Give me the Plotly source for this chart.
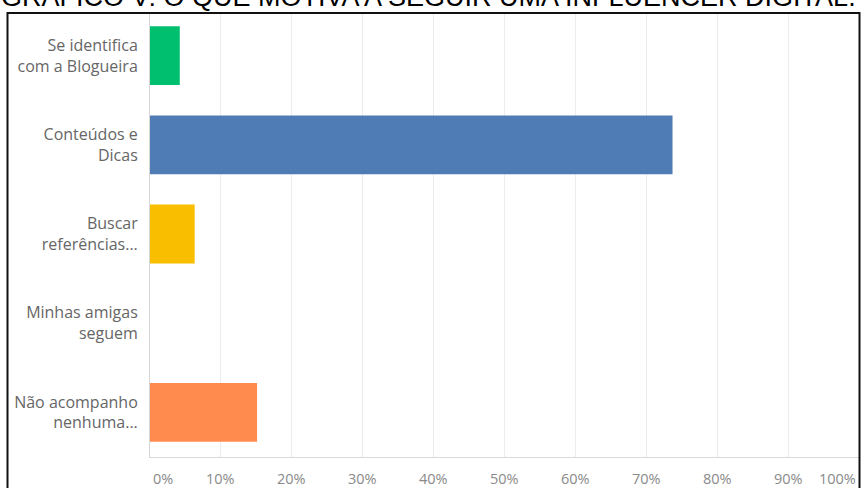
import plotly.graph_objects as go

categories = ["Se identifica<br>com a Blogueira", "Conteúdos e<br>Dicas", "Buscar<br>referências...",
              "Minhas amigas<br>seguem", "Não acompanho<br>nenhuma..."]
values = [4.2, 73.7, 6.3, 0.0, 15.1]
colors = ["#00bf6f", "#507cb6", "#f9be00", "#6bc8cd", "#ff8b4f"]
tick_vals = [0, 10, 20, 30, 40, 50, 60, 70, 80, 90, 100]
tick_text = ["0%", "10%", "20%", "30%", "40%", "50%", "60%", "70%", "80%", "90%", "100%"]
title_text = "GRÁFICO V: O QUE MOTIVA A SEGUIR UMA INFLUENCER DIGITAL."

W, H = 861, 488
L, R, T, B = 150, 2, 14, 31
pw, ph = W - L - R, H - T - B

def px_x(p):
    return (p - L) / pw

def px_y(p):
    return (H - B - p) / ph

fig = go.Figure()
fig.add_trace(go.Bar(
    x=values, y=list(range(len(categories))), orientation="h",
    marker=dict(color=colors, line=dict(width=0)), width=0.66,
    hoverinfo="skip",
))

annotations = []
for v, t in zip(tick_vals, tick_text):
    anchor, shift = "center", 0
    if v == 0:
        anchor, shift = "left", 1
    elif v == 100:
        anchor, shift = "right", -1
    annotations.append(dict(
        x=v, xref="x", y=px_y(479), yref="paper", text=t, showarrow=False,
        xanchor=anchor, yanchor="middle", xshift=shift,
        font=dict(family="Open Sans", size=14.5, color="#8a8a8a"),
    ))
annotations.append(dict(
    x=px_x(428), xref="paper", y=px_y(-3), yref="paper", text=title_text, showarrow=False,
    xanchor="center", yanchor="middle",
    font=dict(family="Liberation Sans, Arial", size=27, color="#000000"),
))

fig.update_layout(
    width=W, height=H, margin=dict(l=L, r=R, t=T, b=B, pad=0),
    paper_bgcolor="white", plot_bgcolor="white", showlegend=False,
    xaxis=dict(range=[0, 100], tickvals=tick_vals, showticklabels=False,
               showgrid=True, gridcolor="#ececec", gridwidth=1, zeroline=False,
               showline=True, linecolor="#d9d9d9", linewidth=1, fixedrange=True),
    yaxis=dict(range=[4.5, -0.467], tickvals=list(range(len(categories))), ticktext=categories,
               showgrid=False, zeroline=False, showline=True, linecolor="#d6d6d6", linewidth=1,
               ticks="", ticklabelstandoff=8,
               tickfont=dict(family="Open Sans", size=16, color="#666666")),
    annotations=annotations,
    shapes=[dict(type="rect", xref="paper", yref="paper",
                 x0=px_x(7.5), x1=px_x(859.5), y0=px_y(520), y1=px_y(13),
                 line=dict(color="#111111", width=2), fillcolor="rgba(0,0,0,0)", layer="above")],
)

fig.write_html("out.html")
